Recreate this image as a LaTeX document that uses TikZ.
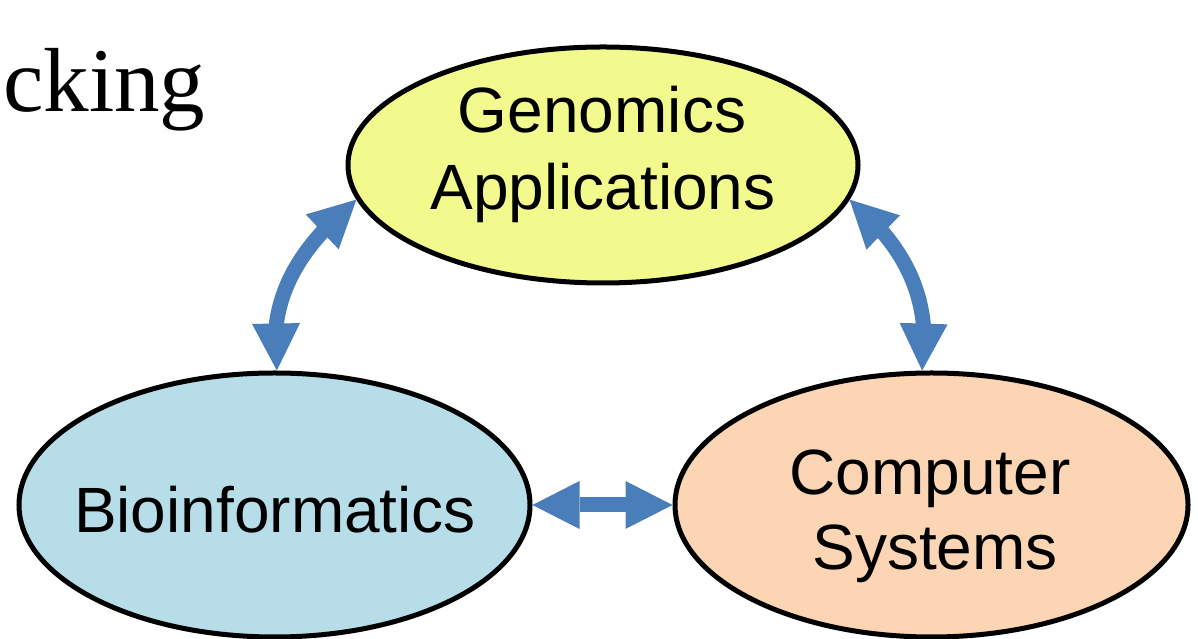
\documentclass[tikz,border=0pt]{standalone}
\usepackage{fontspec}
\usetikzlibrary{shapes.geometric,arrows.meta,bending}
\newfontfamily\labelfont{Liberation Sans}
\newfontfamily\titlefont{Liberation Serif}
\definecolor{genfill}{HTML}{F2FA8E}
\definecolor{biofill}{HTML}{B7DEE8}
\definecolor{compfill}{HTML}{FCD5B4}
\definecolor{linkblue}{HTML}{4A7EBB}
\tikzset{
  topic/.style={ellipse, draw=black, line width=5pt, inner sep=0pt},
  topictext/.style={anchor=base, inner sep=0pt, font=\labelfont\fontsize{64}{76}\selectfont},
  link/.style={draw=linkblue, line width=15pt,
    {Triangle[length=47pt,width=48pt,line width=0pt]}-{Triangle[length=47pt,width=48pt,line width=0pt]}},
}
\begin{document}
\begin{tikzpicture}[x=1pt,y=1pt]
  \useasboundingbox (0,0) rectangle (1198,639);

  % title fragment
  \node[anchor=base west, inner sep=0pt, font=\titlefont\fontsize{91}{100}\selectfont] (title) at (3,527) {cking};

  % topic ellipses
  \node[topic, fill=genfill, minimum width=510pt, minimum height=236pt] (gen) at (603,474) {};
  \node[topic, fill=biofill, minimum width=511pt, minimum height=264pt] (bio) at (274.5,134) {};
  \node[topic, fill=compfill, minimum width=513pt, minimum height=264pt] (comp) at (931.5,134) {};

  % labels
  \node[topictext] (gen1) at (602,506) {Genomics};
  \node[topictext] (gen2) at (603,429) {Applications};
  \node[topictext] (biot) at (275,106) {Bioinformatics};
  \node[topictext] (comp1) at (930,144) {Computer};
  \node[topictext] (comp2) at (935,69) {Systems};

  % two-way links
  \draw[link] (bio.89) to[out=98,in=220] (gen.188);
  \draw[link] (comp.94) to[out=82,in=320] (gen.-8);
  \draw[link] (bio.east) -- (comp.west);
\end{tikzpicture}
\end{document}
